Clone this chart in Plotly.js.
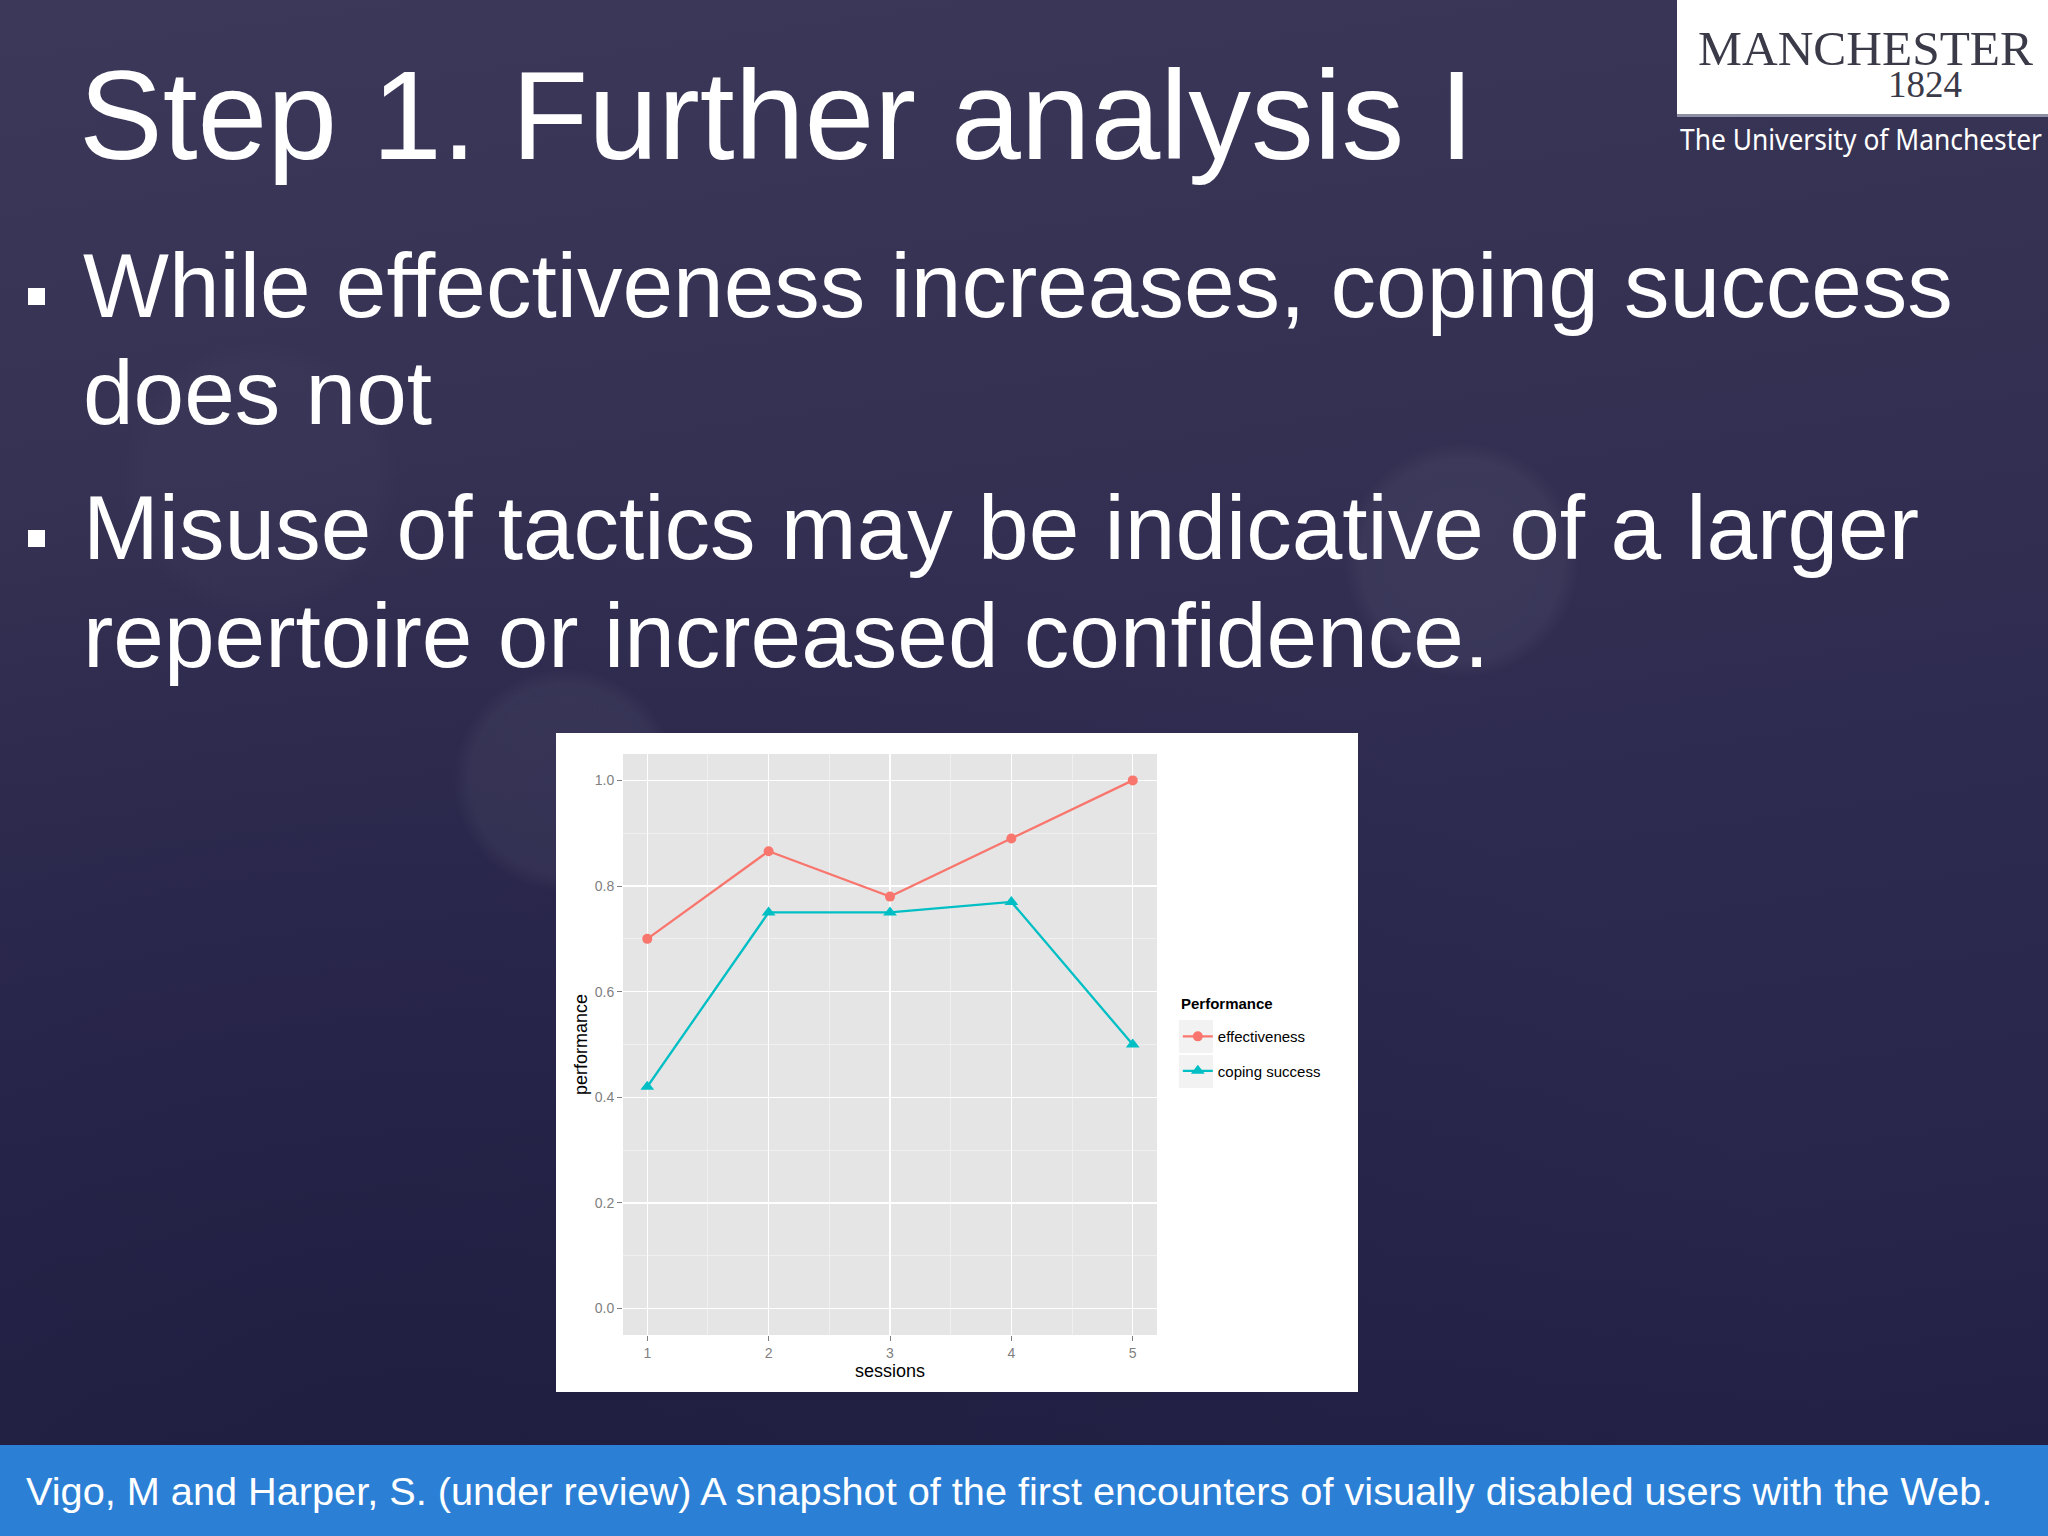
<!DOCTYPE html>
<html>
<head>
<meta charset="utf-8">
<script src="https://cdn.plot.ly/plotly-3.0.1.min.js"></script>
<style>
  html, body { margin:0; padding:0; width:2048px; height:1536px; overflow:hidden; }
  body {
    position:relative;
    background: linear-gradient(172deg, #3b3859 0%, #343153 30%, #2e2b50 55%, #28264a 78%, #201e42 100%);
    font-family: "Liberation Sans", Arial, sans-serif;
  }
  #slide { position:absolute; left:0; top:0; width:2048px; height:1536px; }
  #chart { position:absolute; left:556px; top:733px; width:802px; height:659px; }
</style>
</head>
<body>
<svg id="slide" width="2048" height="1536" xmlns="http://www.w3.org/2000/svg">
  <defs>
    <radialGradient id="glow" cx="50%" cy="50%" r="50%">
      <stop offset="0%" stop-color="#ffffff" stop-opacity="0.05"/>
      <stop offset="85%" stop-color="#ffffff" stop-opacity="0.045"/>
      <stop offset="100%" stop-color="#ffffff" stop-opacity="0"/>
    </radialGradient>
    <radialGradient id="dark" cx="20%" cy="100%" r="70%">
      <stop offset="0%" stop-color="#1b1a3c" stop-opacity="0.7"/>
      <stop offset="100%" stop-color="#1b1a3c" stop-opacity="0"/>
    </radialGradient>
  </defs>
  <rect x="0" y="0" width="2048" height="1536" fill="url(#dark)"/>
  <circle cx="1462" cy="560" r="118" fill="url(#glow)"/>
  <circle cx="565" cy="780" r="112" fill="url(#glow)"/>
  <circle cx="260" cy="480" r="140" fill="url(#glow)" opacity="0.3"/>

  <!-- Logo -->
  <rect x="1677" y="0" width="371" height="114" fill="#ffffff"/>
  <rect x="1677" y="114" width="371" height="3" fill="#8f8fa3"/>
  <text x="1698" y="65" font-family="'Liberation Serif', 'DejaVu Serif', serif" font-size="48" fill="#3a3a48" textLength="335" lengthAdjust="spacingAndGlyphs">MANCHESTER</text>
  <text x="1888" y="97" font-family="'Liberation Serif', 'DejaVu Serif', serif" font-size="37" fill="#3a3a48">1824</text>
  <text x="1680" y="150" font-family="'Noto Sans', 'Open Sans', sans-serif" font-size="29" fill="#ffffff" textLength="362" lengthAdjust="spacingAndGlyphs">The University of Manchester</text>

  <!-- Title -->
  <text x="79" y="159" font-family="'Liberation Sans', Arial, sans-serif" font-size="125.5" fill="#ffffff">Step 1. Further analysis I</text>

  <!-- Bullets -->
  <rect x="28" y="288" width="17" height="17" fill="#ffffff"/>
  <text x="83" y="317" font-family="'Liberation Sans', Arial, sans-serif" font-size="91" fill="#ffffff">While effectiveness increases, coping success</text>
  <text x="83" y="424" font-family="'Liberation Sans', Arial, sans-serif" font-size="91" fill="#ffffff">does not</text>
  <rect x="28" y="530" width="17" height="17" fill="#ffffff"/>
  <text x="83" y="559" font-family="'Liberation Sans', Arial, sans-serif" font-size="91" fill="#ffffff">Misuse of tactics may be indicative of a larger</text>
  <text x="83" y="667" font-family="'Liberation Sans', Arial, sans-serif" font-size="91" fill="#ffffff">repertoire or increased confidence.</text>

  <!-- Footer -->
  <rect x="0" y="1445" width="2048" height="91" fill="#2b80d6"/>
  <text x="26" y="1505" font-family="'Liberation Sans', Arial, sans-serif" font-size="39.7" fill="#ffffff">Vigo, M and Harper, S. (under review) A snapshot of the first encounters of visually disabled users with the Web.</text>
</svg>
<div id="chart"></div>
<script>
// ---- data ----
const sessions = [1, 2, 3, 4, 5];
const effectiveness = [0.70, 0.866, 0.78, 0.89, 1.0];
const copingSuccess = [0.42, 0.75, 0.75, 0.77, 0.50];
const seriesNames = ['effectiveness', 'coping success'];
const xTickVals = [1, 2, 3, 4, 5];
const yTickVals = [0.0, 0.2, 0.4, 0.6, 0.8, 1.0];
const yTickText = ['0.0', '0.2', '0.4', '0.6', '0.8', '1.0'];
const legendTitle = 'Performance';
const xTitle = 'sessions';
const yTitle = 'performance';

// ---- styles ----
const RED = '#F8766D', TEAL = '#00BFC4';
const FONT = "'Liberation Sans', Arial, sans-serif";
const mid = a => a.slice(0, -1).map((v, i) => (v + a[i + 1]) / 2);

const traces = [
  { x: sessions, y: effectiveness, name: seriesNames[0], type: 'scatter', mode: 'lines+markers',
    legendgroup: 'a',
    line: { color: RED, width: 2.3 }, marker: { color: RED, symbol: 'circle', size: 10 } },
  { x: sessions, y: copingSuccess, name: seriesNames[1], type: 'scatter', mode: 'lines+markers',
    legendgroup: 'b',
    line: { color: TEAL, width: 2.3 }, marker: { color: TEAL, symbol: 'triangle-up', size: 12 } }
];

const axisCommon = {
  showgrid: true, gridcolor: '#FFFFFF', gridwidth: 1.3,
  zeroline: false, showline: false,
  ticks: 'outside', ticklen: 5, tickwidth: 1, tickcolor: '#7F7F7F',
  tickfont: { family: FONT, size: 14, color: '#7F7F7F' },
  automargin: false
};

// legend key backgrounds (ggplot grey95 key boxes), in paper fractions of the chart
const keyX0 = 1.041, keyX1 = 1.105;
const keyBoxes = [[0.4854, 0.5422], [0.4251, 0.4819]];

const layout = {
  width: 802, height: 659,
  margin: { l: 67, r: 201, t: 21, b: 57 },
  paper_bgcolor: '#FFFFFF', plot_bgcolor: '#E5E5E5',
  font: { family: FONT, color: '#000000' },
  showlegend: true,
  xaxis: Object.assign({}, axisCommon, {
    range: [0.8, 5.2], tickmode: 'array', tickvals: xTickVals,
    minor: { tickmode: 'array', tickvals: mid(xTickVals), showgrid: true, gridcolor: '#F2F2F2', gridwidth: 0.8, ticks: '' },
    title: { text: xTitle, font: { family: FONT, size: 18, color: '#000000' }, standoff: 4 }
  }),
  yaxis: Object.assign({}, axisCommon, {
    range: [-0.05, 1.05], tickmode: 'array', tickvals: yTickVals, ticktext: yTickText,
    minor: { tickmode: 'array', tickvals: mid(yTickVals), showgrid: true, gridcolor: '#F2F2F2', gridwidth: 0.8, ticks: '' },
    title: { text: yTitle, font: { family: FONT, size: 18, color: '#000000' }, standoff: 2 }
  }),
  legend: {
    x: 1.039, xanchor: 'left', y: 0.542, yanchor: 'top',
    bgcolor: 'rgba(0,0,0,0)', borderwidth: 0,
    font: { family: FONT, size: 15, color: '#000000' },
    traceorder: 'grouped', tracegroupgap: 12
  },
  annotations: [{
    xref: 'paper', yref: 'paper', x: 1.0412, y: 0.570, xanchor: 'left', yanchor: 'middle',
    text: '<b>' + legendTitle + '</b>', showarrow: false,
    font: { family: FONT, size: 15, color: '#000000' }
  }],
  shapes: keyBoxes.map(b => ({
    type: 'rect', xref: 'paper', yref: 'paper', x0: keyX0, x1: keyX1, y0: b[0], y1: b[1],
    fillcolor: '#F2F2F2', line: { width: 0 }, layer: 'below'
  }))
};

Plotly.newPlot('chart', traces, layout, { staticPlot: true, displayModeBar: false });
</script>
</body>
</html>
